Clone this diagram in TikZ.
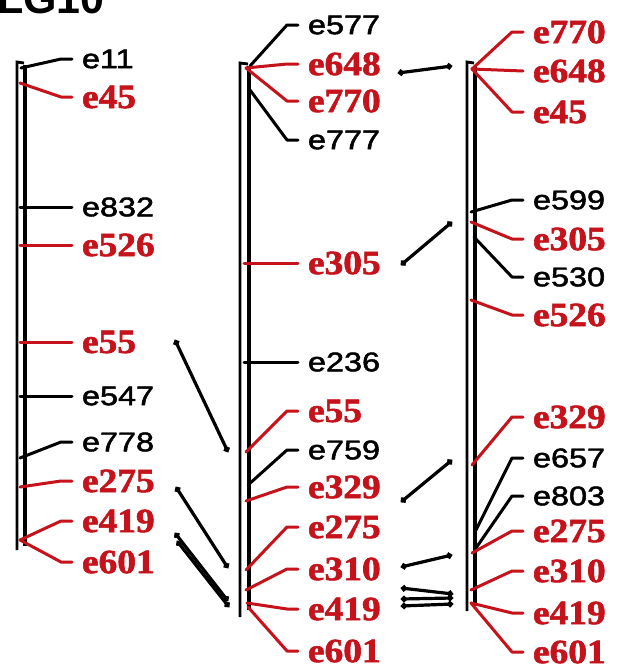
\documentclass[tikz,border=0pt]{standalone}
\usepackage{fontspec}
\setmainfont{Liberation Sans}
\newfontfamily\lgsans[FakeBold=1.6]{Liberation Sans}
\newfontfamily\lgserif[FakeBold=1.6]{Liberation Serif Bold}
\usetikzlibrary{arrows.meta}
\definecolor{lgred}{RGB}{198,18,26}
\newcommand\sxb[1]{\scalebox{1.2}[1]{#1}}
\newcommand\sxr[1]{\scalebox{1.1}[1]{#1}}
\tikzset{
  blab/.style={anchor=west, inner xsep=10pt, inner ysep=0pt, outer sep=0pt,
    font=\lgsans\fontsize{27}{27}\selectfont, text=black},
  rlab/.style={anchor=west, inner xsep=10pt, inner ysep=0pt, outer sep=0pt,
    font=\lgserif\fontsize{34}{34}\selectfont, text=lgred},
  bcon/.style={draw=black, line width=3pt, line cap=round, line join=round},
  rcon/.style={draw=lgred, line width=3pt, line cap=round, line join=round},
  thinbar/.style={draw=black, line width=2.8pt, line join=miter},
  thickbar/.style={draw=black, line width=4.6pt},
  movearrow/.style={draw=black, line width=3.2pt, line cap=round,
    {Circle[length=6pt]}-{Circle[length=6pt]}},
}
\begin{document}
\begin{tikzpicture}[x=1pt,y=-1pt]
\clip (0,0) rectangle (617,670);
\fill[white] (0,0) rectangle (617,670);
% title (cut off at top)
\node[anchor=base west, inner sep=0pt, font=\bfseries\fontsize{43}{43}\selectfont] (title) at (-3,13) {LG10};

% ---------- bars ----------
\draw[thinbar] (17,550) -- (17,62) -- (24,63);
\draw[thickbar] (25,65) -- (25,546);
\draw[thinbar] (240,617) -- (240,63) -- (248,64);
\draw[thickbar] (249,66) -- (249,610);
\draw[thinbar] (467,611) -- (467,62) -- (474,63);
\draw[thickbar] (475,66) -- (475,606);

% ---------- column 1 ----------
\node[blab] (a1) at (72,59) {\sxb{e11}};
\node[rlab] (a2) at (72,97) {\sxr{e45}};
\node[blab] (a3) at (72,207) {\sxb{e832}};
\node[rlab] (a4) at (72,245) {\sxr{e526}};
\node[rlab] (a5) at (72,342) {\sxr{e55}};
\node[blab] (a6) at (72,396) {\sxb{e547}};
\node[blab] (a7) at (72,442) {\sxb{e778}};
\node[rlab] (a8) at (72,481) {\sxr{e275}};
\node[rlab] (a9) at (72,521) {\sxr{e419}};
\node[rlab] (a10) at (72,562) {\sxr{e601}};
\coordinate (pa1) at (21,68);
\coordinate (pa2) at (20,83);
\coordinate (pa3) at (20,207);
\coordinate (pa4) at (20,245);
\coordinate (pa5) at (20,342);
\coordinate (pa6) at (20,396);
\coordinate (pa7) at (20,458);
\coordinate (pa8) at (20,487);
\coordinate (pa9) at (20,540);
\draw[bcon] (pa1) -- ([xshift=-11pt]a1.west) -- (a1.west);
\draw[rcon] (pa2) -- ([xshift=-11pt]a2.west) -- (a2.west);
\draw[bcon] (pa3) -- (a3.west);
\draw[rcon] (pa4) -- (a4.west);
\draw[rcon] (pa5) -- (a5.west);
\draw[bcon] (pa6) -- (a6.west);
\draw[bcon] (pa7) -- ([xshift=-11pt]a7.west) -- (a7.west);
\draw[rcon] (pa8) -- ([xshift=-11pt]a8.west) -- (a8.west);
\draw[rcon] (pa9) -- ([xshift=-11pt]a9.west) -- (a9.west);
\draw[rcon] (pa9) -- ([xshift=-11pt]a10.west) -- (a10.west);

% ---------- column 2 ----------
\node[blab] (b1) at (298,25) {\sxb{e577}};
\node[rlab] (b2) at (298,64) {\sxr{e648}};
\node[rlab] (b3) at (298,101) {\sxr{e770}};
\node[blab] (b4) at (298,140) {\sxb{e777}};
\node[rlab] (b5) at (298,263) {\sxr{e305}};
\node[blab] (b6) at (298,362) {\sxb{e236}};
\node[rlab] (b7) at (298,411) {\sxr{e55}};
\node[blab] (b8) at (298,450) {\sxb{e759}};
\node[rlab] (b9) at (298,487) {\sxr{e329}};
\node[rlab] (b10) at (298,527) {\sxr{e275}};
\node[rlab] (b11) at (298,569) {\sxr{e310}};
\node[rlab] (b12) at (298,609) {\sxr{e419}};
\node[rlab] (b13) at (298,651) {\sxr{e601}};
\coordinate (pb1) at (250,66);
\coordinate (pb2) at (246,68);
\coordinate (pb4) at (250,90);
\coordinate (pb5) at (244,263);
\coordinate (pb6) at (244,362);
\coordinate (pb7) at (246,452);
\coordinate (pb8) at (248,485);
\coordinate (pb9) at (246,501);
\coordinate (pb10) at (246,570);
\coordinate (pb11) at (246,590);
\coordinate (pb12) at (247,603);
\coordinate (pb13) at (248,607);
\draw[bcon] (pb1) -- ([xshift=-11pt]b1.west) -- (b1.west);
\draw[rcon] (pb2) -- ([xshift=-11pt]b2.west) -- (b2.west);
\draw[rcon] (pb2) -- ([xshift=-11pt]b3.west) -- (b3.west);
\draw[bcon] (pb4) -- ([xshift=-11pt]b4.west) -- (b4.west);
\draw[rcon] (pb5) -- (b5.west);
\draw[bcon] (pb6) -- (b6.west);
\draw[rcon] (pb7) -- ([xshift=-11pt]b7.west) -- (b7.west);
\draw[bcon] (pb8) -- ([xshift=-11pt]b8.west) -- (b8.west);
\draw[rcon] (pb9) -- ([xshift=-11pt]b9.west) -- (b9.west);
\draw[rcon] (pb10) -- ([xshift=-11pt]b10.west) -- (b10.west);
\draw[rcon] (pb11) -- ([xshift=-11pt]b11.west) -- (b11.west);
\draw[rcon] (pb12) -- ([xshift=-11pt]b12.west) -- (b12.west);
\draw[rcon] (pb13) -- ([xshift=-11pt]b13.west) -- (b13.west);

% ---------- column 3 ----------
\node[rlab] (c1) at (523,32) {\sxr{e770}};
\node[rlab] (c2) at (523,71) {\sxr{e648}};
\node[rlab] (c3) at (523,112) {\sxr{e45}};
\node[blab] (c4) at (523,200) {\sxb{e599}};
\node[rlab] (c5) at (523,239) {\sxr{e305}};
\node[blab] (c6) at (523,277) {\sxb{e530}};
\node[rlab] (c7) at (523,315) {\sxr{e526}};
\node[rlab] (c8) at (523,417) {\sxr{e329}};
\node[blab] (c9) at (523,458) {\sxb{e657}};
\node[blab] (c10) at (523,496) {\sxb{e803}};
\node[rlab] (c11) at (523,531) {\sxr{e275}};
\node[rlab] (c12) at (523,571) {\sxr{e310}};
\node[rlab] (c13) at (523,613) {\sxr{e419}};
\node[rlab] (c14) at (523,652) {\sxr{e601}};
\coordinate (pc1) at (472,69);
\coordinate (pc4) at (471,212);
\coordinate (pc5) at (471,222);
\coordinate (pc6) at (474,237);
\coordinate (pc7) at (471,300);
\coordinate (pc8) at (472,465);
\coordinate (pc9) at (476,530);
\coordinate (pc10) at (476,548);
\coordinate (pc11) at (472,553);
\coordinate (pc12) at (471,590);
\coordinate (pc13) at (471,603);
\draw[rcon] (pc1) -- ([xshift=-11pt]c1.west) -- (c1.west);
\draw[rcon] (pc1) -- (c2.west);
\draw[rcon] (pc1) -- ([xshift=-11pt]c3.west) -- (c3.west);
\draw[bcon] (pc4) -- ([xshift=-11pt]c4.west) -- (c4.west);
\draw[rcon] (pc5) -- ([xshift=-11pt]c5.west) -- (c5.west);
\draw[bcon] (pc6) -- ([xshift=-11pt]c6.west) -- (c6.west);
\draw[rcon] (pc7) -- ([xshift=-11pt]c7.west) -- (c7.west);
\draw[rcon] (pc8) -- ([xshift=-11pt]c8.west) -- (c8.west);
\draw[bcon] (pc9) -- ([xshift=-11pt]c9.west) -- (c9.west);
\draw[bcon] (pc10) -- ([xshift=-11pt]c10.west) -- (c10.west);
\draw[rcon] (pc11) -- ([xshift=-11pt]c11.west) -- (c11.west);
\draw[rcon] (pc12) -- ([xshift=-11pt]c12.west) -- (c12.west);
\draw[rcon] (pc13) -- ([xshift=-11pt]c13.west) -- (c13.west);
\draw[rcon] (pc13) -- ([xshift=-11pt]c14.west) -- (c14.west);

% ---------- moves between columns ----------
\coordinate (m1a) at (175,340);  \coordinate (m1b) at (228,452);
\coordinate (m2a) at (176,487);  \coordinate (m2b) at (228,568);
\coordinate (m3a) at (175,533);  \coordinate (m3b) at (228,601);
\coordinate (m4a) at (177,541);  \coordinate (m4b) at (229,607);
\coordinate (m5a) at (398,73);   \coordinate (m5b) at (452,66);
\coordinate (m6a) at (401,265);  \coordinate (m6b) at (452,222);
\coordinate (m7a) at (401,502);  \coordinate (m7b) at (452,460);
\coordinate (m8a) at (401,567);  \coordinate (m8b) at (452,555);
\coordinate (m9a) at (401,588);  \coordinate (m9b) at (453,594);
\coordinate (m10a) at (401,599); \coordinate (m10b) at (453,598);
\coordinate (m11a) at (401,606); \coordinate (m11b) at (453,604);
\foreach \m in {m1,m2,m3,m4,m5,m6,m7,m8,m9,m10,m11}
  \draw[movearrow] (\m a) -- (\m b);
\end{tikzpicture}
\end{document}
